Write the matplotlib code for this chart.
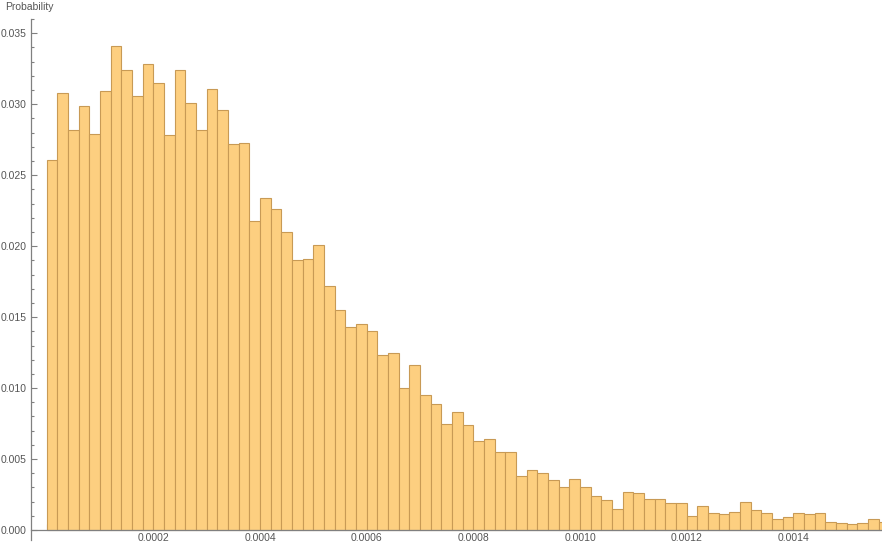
import numpy as np
import matplotlib.pyplot as plt
from matplotlib.ticker import MultipleLocator, FuncFormatter

# histogram bins (width 2e-5, starting at 0)
bin_width = 2e-5
probs = [
    0.0261, 0.0308, 0.0282, 0.0299, 0.0279, 0.0309, 0.0341, 0.0324, 0.0306, 0.0328,
    0.0315, 0.0278, 0.0324, 0.0301, 0.0282, 0.0311, 0.0296, 0.0272, 0.0273, 0.0218,
    0.0234, 0.0226, 0.0210, 0.0190, 0.0191, 0.0201, 0.0172, 0.0155, 0.0143, 0.0145,
    0.0140, 0.0123, 0.0125, 0.0100, 0.0116, 0.0095, 0.0089, 0.0075, 0.0083, 0.0074,
    0.0063, 0.0064, 0.0055, 0.0055, 0.0038, 0.0042, 0.0040, 0.0035, 0.0030, 0.0036,
    0.0030, 0.0024, 0.0021, 0.0015, 0.0027, 0.0026, 0.0022, 0.0022, 0.0019, 0.0019,
    0.0010, 0.0017, 0.0012, 0.0011, 0.0013, 0.0020, 0.0014, 0.0012, 0.0008, 0.0009,
    0.0012, 0.0011, 0.0012, 0.0006, 0.0005, 0.0004, 0.0005, 0.0008, 0.0006,
]
left_edges = np.arange(len(probs)) * bin_width

W, H = 882, 547
fig = plt.figure(figsize=(W / 100, H / 100), dpi=100)
ax = fig.add_axes([31 / W, 7 / H, 1 - 31 / W, (540 - 19) / H])

ax.bar(left_edges, probs, width=bin_width, align="edge",
       color="#FDCF80", edgecolor="#C89A55", linewidth=0.8, zorder=2)

ax.set_xlim(-2.94e-5, 0.001566)
ax.set_ylim(-0.0007, 0.036)

for s in ["top", "right"]:
    ax.spines[s].set_visible(False)
ax.spines["bottom"].set_position(("data", 0))
for s in ["left", "bottom"]:
    ax.spines[s].set_color("#808080")
    ax.spines[s].set_linewidth(0.9)
    ax.spines[s].set_zorder(3)

ax.xaxis.set_major_locator(MultipleLocator(0.0002))
ax.xaxis.set_minor_locator(MultipleLocator(0.00005))
ax.yaxis.set_major_locator(MultipleLocator(0.005))
ax.yaxis.set_minor_locator(MultipleLocator(0.001))

ax.xaxis.set_major_formatter(FuncFormatter(lambda v, p: "" if abs(v) < 1e-12 else f"{v:.4f}"))
ax.yaxis.set_major_formatter(FuncFormatter(lambda v, p: f"{v:.3f}"))

ax.tick_params(which="both", direction="in", color="#808080", width=0.8,
               labelsize=7.5, labelcolor="#555555")
ax.tick_params(which="major", length=4)
ax.tick_params(which="minor", length=2.5)
ax.tick_params(axis="y", pad=3)
ax.tick_params(axis="x", pad=2)
for lab in ax.get_xticklabels() + ax.get_yticklabels():
    lab.set_family("Liberation Sans")

fig.text(5 / W, 1 - 7 / H, "Probability", ha="left", va="center",
         fontsize=7.5, color="#555555", family="Liberation Sans")

fig.savefig("out.png", dpi=100)
